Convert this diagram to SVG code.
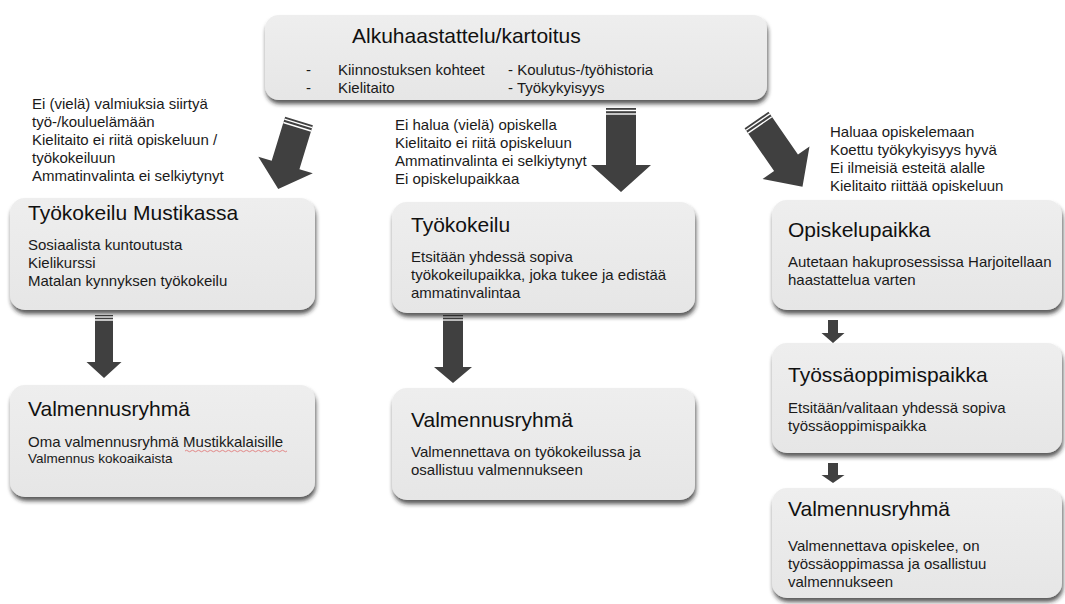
<svg xmlns="http://www.w3.org/2000/svg" width="1065" height="604" viewBox="0 0 1065 604">
<defs>
<linearGradient id="g" x1="0" y1="0" x2="0" y2="1">
<stop offset="0" stop-color="#eeeeee"/>
<stop offset="1" stop-color="#e6e6e6"/>
</linearGradient>
<filter id="sh" x="-10%" y="-10%" width="125%" height="135%">
<feDropShadow dx="1" dy="4" stdDeviation="2" flood-color="#222" flood-opacity="0.75"/>
</filter>
<style>
.box{fill:url(#g);filter:url(#sh);}
.t{font-family:"Liberation Sans",Arial,sans-serif;font-size:21px;fill:#111;}
.b{font-family:"Liberation Sans",Arial,sans-serif;font-size:15px;fill:#1a1a1a;}
.s{font-family:"Liberation Sans",Arial,sans-serif;font-size:13.5px;fill:#1a1a1a;}
.ar{fill:#404040;}
.st{stroke:#fff;stroke-width:1.4;}
</style>
</defs>
<rect width="1065" height="604" fill="#fff"/>

<g id="connectors">
<g transform="translate(299,121) rotate(17)">
<polygon class="ar" points="-14.5,0 14.5,0 14.5,46 28.5,46 0,71 -28.5,46 -14.5,46"/>
<line class="st" x1="-14.5" y1="2.5" x2="14.5" y2="2.5"/><line class="st" x1="-14.5" y1="6" x2="14.5" y2="6"/>
</g>
<g transform="translate(621,108)">
<polygon class="ar" points="-15,0 15,0 15,57 30,57 0,84 -30,57 -15,57"/>
<line class="st" x1="-15" y1="2.5" x2="15" y2="2.5"/><line class="st" x1="-15" y1="6" x2="15" y2="6"/>
</g>
<g transform="translate(756.5,120) rotate(-34.6)">
<polygon class="ar" points="-14.5,0 14.5,0 14.5,52 28.5,52 0,81 -28.5,52 -14.5,52"/>
<line class="st" x1="-14.5" y1="2.5" x2="14.5" y2="2.5"/><line class="st" x1="-14.5" y1="6" x2="14.5" y2="6"/>
</g>
<g transform="translate(104,315)">
<polygon class="ar" points="-9,0 9,0 9,47 17.5,47 0,63 -17.5,47 -9,47"/>
<line class="st" x1="-9" y1="2" x2="9" y2="2"/><line class="st" x1="-9" y1="5" x2="9" y2="5"/>
</g>
<g transform="translate(453,315)">
<polygon class="ar" points="-10,0 10,0 10,52 19,52 0,68 -19,52 -10,52"/>
<line class="st" x1="-10" y1="2" x2="10" y2="2"/><line class="st" x1="-10" y1="5" x2="10" y2="5"/>
</g>
<g transform="translate(833,320)">
<polygon class="ar" points="-5,0 5,0 5,13 11.5,13 0,23 -11.5,13 -5,13"/>
</g>
<g transform="translate(833,463)">
<polygon class="ar" points="-5,0 5,0 5,12 11.5,12 0,20 -11.5,12 -5,12"/>
</g>
</g>

<g id="n-top">
<rect class="box" x="265" y="15" width="502" height="85" rx="14"/>
<text class="t" x="352" y="43">Alkuhaastattelu/kartoitus</text>
<text class="b" x="306" y="75">-</text>
<text class="b" x="338" y="75">Kiinnostuksen kohteet</text>
<text class="b" x="508" y="75">- Koulutus-/työhistoria</text>
<text class="b" x="306" y="93">-</text>
<text class="b" x="338" y="93">Kielitaito</text>
<text class="b" x="508" y="93">- Työkykyisyys</text>
</g>

<g id="label-left">
<text class="b" x="32" y="109">Ei (vielä) valmiuksia siirtyä</text>
<text class="b" x="32" y="127">työ-/kouluelämään</text>
<text class="b" x="32" y="145">Kielitaito ei riitä opiskeluun /</text>
<text class="b" x="32" y="163">työkokeiluun</text>
<text class="b" x="32" y="181">Ammatinvalinta ei selkiytynyt</text>
</g>
<g id="label-mid">
<text class="b" x="395" y="130">Ei halua (vielä) opiskella</text>
<text class="b" x="395" y="148">Kielitaito ei riitä opiskeluun</text>
<text class="b" x="395" y="166">Ammatinvalinta ei selkiytynyt</text>
<text class="b" x="395" y="184">Ei opiskelupaikkaa</text>
</g>
<g id="label-right">
<text class="b" x="830" y="137">Haluaa opiskelemaan</text>
<text class="b" x="830" y="155">Koettu työkykyisyys hyvä</text>
<text class="b" x="830" y="173">Ei ilmeisiä esteitä alalle</text>
<text class="b" x="830" y="191">Kielitaito riittää opiskeluun</text>
</g>

<g id="n-mustikka">
<rect class="box" x="10" y="198" width="305" height="112" rx="15"/>
<text class="t" x="28" y="220">Työkokeilu Mustikassa</text>
<text class="b" x="28" y="250">Sosiaalista kuntoutusta</text>
<text class="b" x="28" y="268">Kielikurssi</text>
<text class="b" x="28" y="286">Matalan kynnyksen työkokeilu</text>
</g>

<g id="n-tyokokeilu">
<rect class="box" x="392" y="202" width="303" height="111" rx="15"/>
<text class="t" x="411" y="232">Työkokeilu</text>
<text class="b" x="411" y="262">Etsitään yhdessä sopiva</text>
<text class="b" x="411" y="280">työkokeilupaikka, joka tukee ja edistää</text>
<text class="b" x="411" y="298">ammatinvalintaa</text>
</g>

<g id="n-opiskelupaikka">
<rect class="box" x="772" y="200" width="290" height="110" rx="15"/>
<text class="t" x="788" y="237">Opiskelupaikka</text>
<text class="b" x="788" y="267">Autetaan hakuprosessissa Harjoitellaan</text>
<text class="b" x="788" y="285">haastattelua varten</text>
</g>

<g id="n-valmennus-left">
<rect class="box" x="10" y="385" width="305" height="112" rx="15"/>
<text class="t" x="28" y="416">Valmennusryhmä</text>
<text class="b" x="28" y="447">Oma valmennusryhmä <tspan>Mustikkalaisille</tspan></text>
<path d="M185,451 q1.5,-1.5 3,0 t3,0 t3,0 t3,0 t3,0 t3,0 t3,0 t3,0 t3,0 t3,0 t3,0 t3,0 t3,0 t3,0 t3,0 t3,0 t3,0 t3,0 t3,0 t3,0 t3,0 t3,0 t3,0 t3,0 t3,0 t3,0 t3,0 t3,0 t3,0 t3,0 t3,0 t3,0 t3,0 t3,0" fill="none" stroke="#e07070" stroke-width="0.8"/>
<text class="s" x="28" y="463">Valmennus kokoaikaista</text>
</g>

<g id="n-valmennus-mid">
<rect class="box" x="392" y="388" width="303" height="112" rx="15"/>
<text class="t" x="411" y="427">Valmennusryhmä</text>
<text class="b" x="411" y="457">Valmennettava on työkokeilussa  ja</text>
<text class="b" x="411" y="475">osallistuu valmennukseen</text>
</g>

<g id="n-tyossaoppimis">
<rect class="box" x="772" y="343" width="290" height="110" rx="15"/>
<text class="t" x="788" y="382">Työssäoppimispaikka</text>
<text class="b" x="788" y="413">Etsitään/valitaan yhdessä sopiva</text>
<text class="b" x="788" y="431">työssäoppimispaikka</text>
</g>

<g id="n-valmennus-right">
<rect class="box" x="772" y="488" width="290" height="110" rx="15"/>
<text class="t" x="788" y="516">Valmennusryhmä</text>
<text class="b" x="788" y="551">Valmennettava opiskelee, on</text>
<text class="b" x="788" y="569">työssäoppimassa ja osallistuu</text>
<text class="b" x="788" y="587">valmennukseen</text>
</g>
</svg>
